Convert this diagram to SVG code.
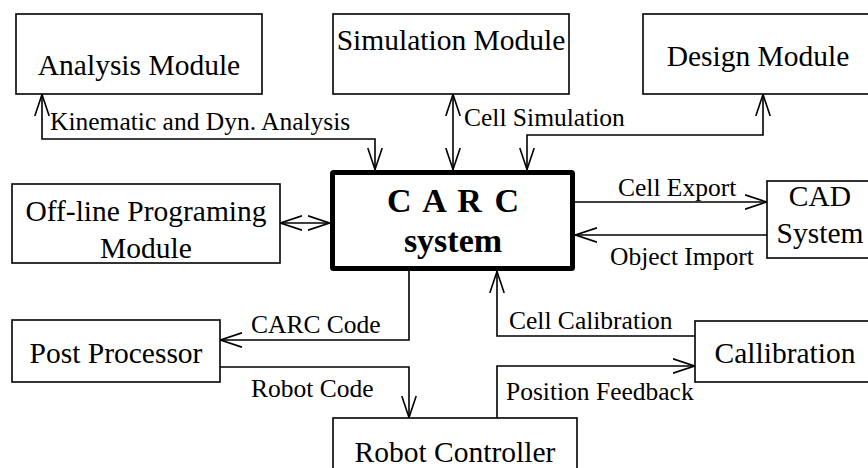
<svg xmlns="http://www.w3.org/2000/svg" width="868" height="468" viewBox="0 0 868 468">
<style>
.box{fill:#fff;stroke:#000;stroke-width:1.6}
.t{font-family:"Liberation Serif","Times New Roman",serif;font-size:29.5px;fill:#000;text-anchor:middle}
.l{font-family:"Liberation Serif","Times New Roman",serif;font-size:25.5px;fill:#000}
.c{fill:none;stroke:#000;stroke-width:1.6}
.e{marker-end:url(#ah)}
.b{marker-start:url(#ah);marker-end:url(#ah)}
</style>
<defs>
<marker id="ah" viewBox="0 0 22 16" refX="22" refY="8" markerWidth="22" markerHeight="16" markerUnits="userSpaceOnUse" orient="auto-start-reverse">
<path d="M0,0.8 L21.5,8 L0,15.2" fill="none" stroke="#000" stroke-width="1.6"/>
</marker>
</defs>
<rect width="868" height="468" fill="#fff"/>
<g id="analysis"><rect class="box" x="16" y="14" width="246" height="80"/><text class="t" x="139" y="75">Analysis Module</text></g>
<g id="simulation"><rect class="box" x="333" y="14" width="236" height="80"/><text class="t" x="451" y="50">Simulation Module</text></g>
<g id="design"><rect class="box" x="643" y="14" width="240" height="80"/><text class="t" x="758" y="66">Design Module</text></g>
<g id="offline"><rect class="box" x="12" y="184" width="268" height="79"/><text class="t" x="146" y="221">Off-line Programing</text><text class="t" x="146" y="258">Module</text></g>
<g id="carc"><rect x="332.5" y="172.5" width="240" height="96" fill="#fff" stroke="#000" stroke-width="5" rx="1"/><text class="t" x="453" y="212" style="font-weight:bold;font-size:34px;word-spacing:4px">C A R C</text><text class="t" x="453" y="252" style="font-weight:bold;font-size:34px">system</text></g>
<g id="cad"><rect class="box" x="767" y="181" width="120" height="77"/><text class="t" x="820" y="206">CAD</text><text class="t" x="820" y="243">System</text></g>
<g id="post"><rect class="box" x="12" y="320" width="208" height="62"/><text class="t" x="116" y="363">Post Processor</text></g>
<g id="calib"><rect class="box" x="695" y="321" width="190" height="61"/><text class="t" x="785" y="363">Callibration</text></g>
<g id="robot"><rect class="box" x="333" y="418" width="244" height="70"/><text class="t" x="455" y="462">Robot Controller</text></g>
<g id="connectors">
<polyline class="c b" points="42,94 42,139 375,139 375,170"/>
<line class="c b" x1="453" y1="94" x2="453" y2="170"/>
<polyline class="c b" points="763,94 763,135 527,135 527,170"/>
<line class="c b" x1="280" y1="223" x2="330" y2="223"/>
<line class="c e" x1="575" y1="202" x2="767" y2="202"/>
<line class="c e" x1="767" y1="235" x2="575" y2="235"/>
<polyline class="c e" points="409,271 409,340 220,340"/>
<polyline class="c e" points="220,367 409,367 409,418"/>
<polyline class="c e" points="695,336 497,336 497,271"/>
<polyline class="c e" points="497,418 497,366 695,366"/>
</g>
<g id="labels">
<text class="l" x="50" y="130">Kinematic and Dyn. Analysis</text>
<text class="l" x="464" y="126">Cell Simulation</text>
<text class="l" x="618" y="196">Cell Export</text>
<text class="l" x="610" y="265">Object Import</text>
<text class="l" x="251" y="333">CARC Code</text>
<text class="l" x="251" y="397">Robot Code</text>
<text class="l" x="509" y="329">Cell Calibration</text>
<text class="l" x="506" y="400">Position Feedback</text>
</g>
</svg>
